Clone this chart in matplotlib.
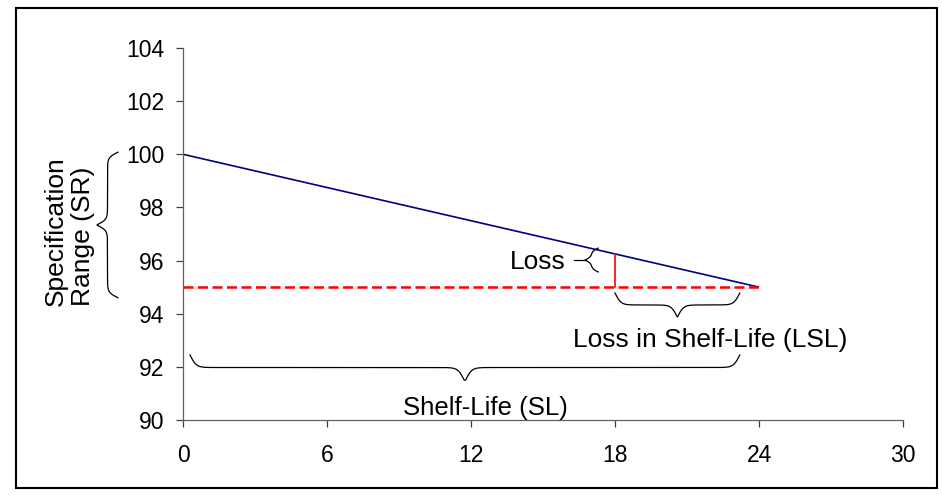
import numpy as np
import matplotlib.pyplot as plt
from matplotlib.patches import Rectangle

plt.rcParams['font.family'] = ['Liberation Sans', 'DejaVu Sans']

# data
months = [0, 24]
assay = [100, 95]
spec_limit = 95
loss_month = 18
loss_top = 96.25
x_ticks = [0, 6, 12, 18, 24, 30]
y_ticks = [90, 92, 94, 96, 98, 100, 102, 104]


def brace_shape(n, beta):
    # 0 at the ends, 1 at the tip
    t = np.linspace(0, 1, n)
    half = t[: n // 2]
    y = 1 / (1 + np.exp(-beta * (half - half[0]))) + 1 / (1 + np.exp(-beta * (half - half[-1])))
    y = np.concatenate([y, y[::-1]])
    y = (y - y.min()) / (y.max() - y.min())
    return np.linspace(0, 1, len(y)), y


def vbrace(ax, x_end, x_tip, y0, y1, beta):
    t, s = brace_shape(400, beta)
    ax.plot(x_end + (x_tip - x_end) * s, y0 + (y1 - y0) * t,
            color='black', lw=0.9, clip_on=False)


def hbrace(ax, x0, x1, y_end, y_tip, beta):
    t, s = brace_shape(400, beta)
    ax.plot(x0 + (x1 - x0) * t, y_end + (y_tip - y_end) * s,
            color='black', lw=0.9, clip_on=False)


fig = plt.figure(figsize=(9.42, 4.95), dpi=100)
ax = fig.add_axes([183 / 942, 1 - 420 / 495, 720 / 942, 372 / 495])

fig.patches.append(Rectangle((16 / 942, 1 - 488 / 495), 921 / 942, 480 / 495,
                             transform=fig.transFigure, fill=False,
                             edgecolor='black', lw=1.5))

ax.plot(months, assay, color='#000080', lw=1.2, solid_capstyle='butt')
ax.plot(months, [spec_limit, spec_limit], color='red', lw=1.8, ls=(0, (4, 1.8)))
ax.plot([loss_month, loss_month], [spec_limit, loss_top], color='red', lw=1.2)

ax.set_xlim(0, 30)
ax.set_ylim(90, 104)
ax.set_xticks(x_ticks)
ax.set_yticks(y_ticks)
ax.tick_params(labelsize=16.5, color='#404040', length=5, width=0.9)
ax.tick_params(axis='x', pad=12.5)
ax.tick_params(axis='y', pad=8.5)
for side in ['top', 'right']:
    ax.spines[side].set_visible(False)
for side in ['left', 'bottom']:
    ax.spines[side].set_color('#606060')
    ax.spines[side].set_linewidth(0.9)

# braces
vbrace(ax, -2.71, -3.58, 94.6, 100.08, 56)
vbrace(ax, 17.3, 16.75, 95.57, 96.47, 15)
ax.plot([16.3, 16.75], [96.02, 96.02], color='black', lw=0.9)
hbrace(ax, 18.0, 23.2, 94.78, 93.88, 42)
hbrace(ax, 0.29, 23.2, 92.45, 91.5, 176)

ax.text(14.8, 95.95, 'Loss', fontsize=19, ha='center', va='center')
ax.text(21.95, 93.0, 'Loss in Shelf-Life (LSL)', fontsize=19, ha='center', va='center')
ax.text(12.6, 90.45, 'Shelf-Life (SL)', fontsize=18.5, ha='center', va='center')
ax.text(-4.72, 97.1, 'Specification\nRange (SR)', fontsize=19, rotation=90,
        ha='center', va='center', multialignment='left', linespacing=1.15,
        clip_on=False)

fig.savefig('out.png', dpi=100)
